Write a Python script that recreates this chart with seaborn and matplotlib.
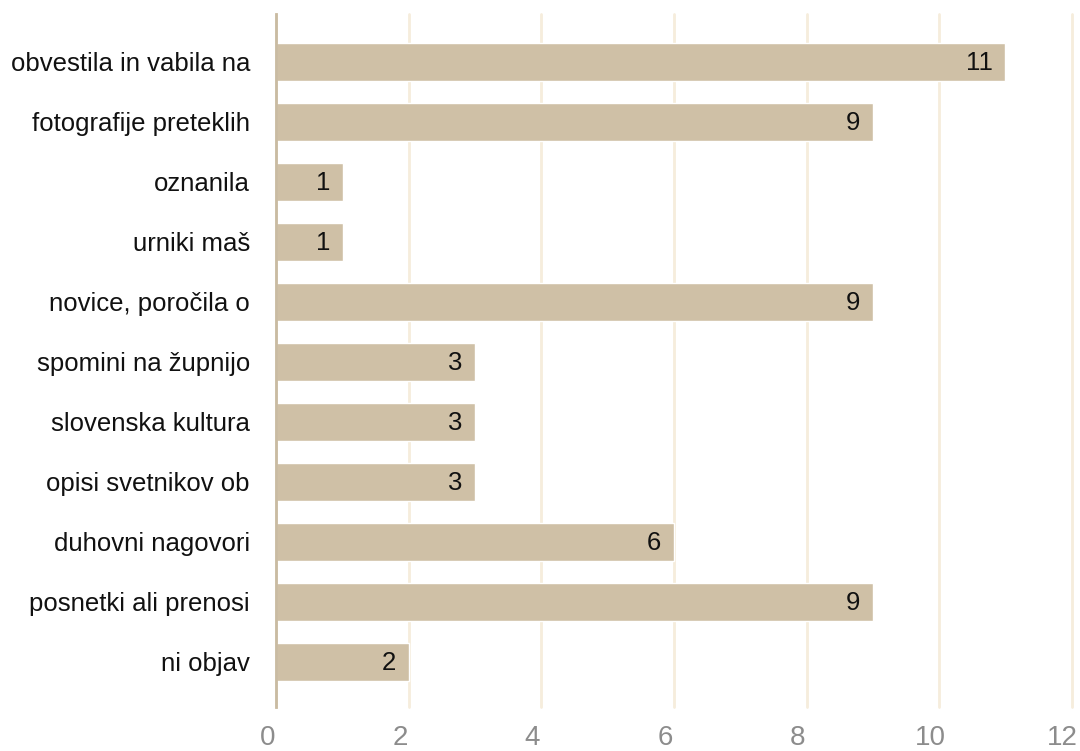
import matplotlib
matplotlib.use("Agg")
import matplotlib.pyplot as plt
import matplotlib.transforms as mtransforms
import seaborn as sns
import pandas as pd

categories = [
    "obvestila in vabila na",
    "fotografije preteklih",
    "oznanila",
    "urniki maš",
    "novice, poročila o",
    "spomini na župnijo",
    "slovenska kultura",
    "opisi svetnikov ob",
    "duhovni nagovori",
    "posnetki ali prenosi",
    "ni objav",
]
counts = [11, 9, 1, 1, 9, 3, 3, 3, 6, 9, 2]
x_ticks = [0, 2, 4, 6, 8, 10, 12]

sns.set_theme(style="white")
plt.rcParams["font.family"] = ["Liberation Sans", "DejaVu Sans"]

df = pd.DataFrame({"kategorija": categories, "stevilo": counts})

fig = plt.figure(figsize=(10.8, 7.51), dpi=100)
ax = fig.add_axes([0.2558, 0.0586, 0.7365, 0.9228])

sns.barplot(data=df, x="stevilo", y="kategorija", orient="h",
            color="#CFC0A6", saturation=1, width=0.633, ax=ax, zorder=2)

ax.set_xlim(0, 12)
ax.set_ylim(10.755, -0.795)
ax.set_xticks(x_ticks)
ax.set_xticklabels([str(t) for t in x_ticks])
ax.grid(axis="x", color="#F6EDDC", linewidth=2, zorder=0)
ax.set_axisbelow(True)
for gl in ax.get_xgridlines():
    gl.set_clip_on(False)

for side in ["top", "right", "bottom"]:
    ax.spines[side].set_visible(False)
ax.spines["left"].set_color("#C9BBA2")
ax.spines["left"].set_linewidth(2)
ax.spines["left"].set_zorder(3)

ax.tick_params(axis="x", length=0, pad=13, labelsize=20, labelcolor="#8C8C8C")
ax.tick_params(axis="y", length=0, pad=19, labelsize=18.5, labelcolor="#111111")
ax.set_xlabel("")
ax.set_ylabel("")

# nudge the value-axis labels slightly to the left of their gridlines
shift = mtransforms.ScaledTranslation(-9 / 100, 0, fig.dpi_scale_trans)
for lbl in ax.get_xticklabels():
    lbl.set_transform(lbl.get_transform() + shift)

for i, v in enumerate(counts):
    ax.annotate(str(v), xy=(v, i), xytext=(-9, -1), textcoords="offset points",
                ha="right", va="center", fontsize=18.5, color="#111111", zorder=4)

fig.savefig("out.png", dpi=100)
